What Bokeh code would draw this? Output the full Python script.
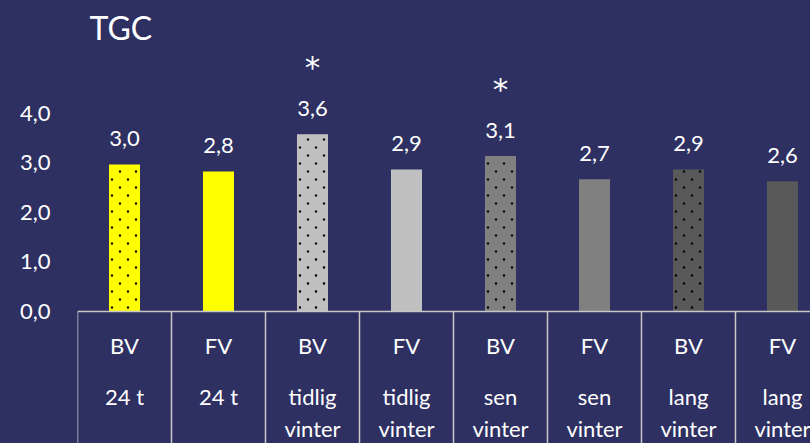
from bokeh.plotting import figure
from bokeh.models import Range1d, FixedTicker, CustomJSTickFormatter, ColumnDataSource, Label
from bokeh.core.properties import value
from bokeh.embed import file_html
from bokeh.resources import INLINE

# ---- data ----
groups = ["BV", "FV", "BV", "FV", "BV", "FV", "BV", "FV"]
periods = ["24 t", "24 t", "tidlig\nvinter", "tidlig\nvinter",
           "sen\nvinter", "sen\nvinter", "lang\nvinter", "lang\nvinter"]
tgc = [2.97, 2.83, 3.58, 2.87, 3.14, 2.67, 2.87, 2.63]
value_labels = ["3,0", "2,8", "3,6", "2,9", "3,1", "2,7", "2,9", "2,6"]
significance = ["", "", "*", "", "*", "", "", ""]
bar_colors = ["#FFFF00", "#FFFF00", "#C0C0C0", "#C0C0C0",
              "#808080", "#808080", "#595959", "#595959"]
dotted = [True, False, True, False, True, False, True, False]
y_ticks = [0, 1, 2, 3, 4]
title_text = "TGC"

BG = "#2E3062"
FONT = "Lato"
LINE = "#C8C8C8"

W, H = 810, 443
LEFT = 77
X0, X1 = 0, 7.798
Y0, Y1 = -2.667, 6.283
BAR_W = 0.33
PX_X = (W - LEFT) / (X1 - X0)   # pixels per x unit
PX_Y = H / (Y1 - Y0)            # pixels per y unit

n = len(groups)
centers = [i + 0.5 for i in range(n)]
line1 = [s.split("\n")[0] for s in periods]
line2 = [s.split("\n")[1] if "\n" in s else "" for s in periods]

src = ColumnDataSource(dict(
    x=centers, top=tgc, color=bar_colors,
    lab=value_labels, sig=significance,
    g=groups, l1=line1, l2=line2,
))

# dotted fill texture for the marked bars (staggered small dots)
dot_x, dot_y = [], []
bw_px = BAR_W * PX_X
for xc, top, d in zip(centers, tgc, dotted):
    if not d:
        continue
    left = xc - BAR_W / 2
    top_px = top * PX_Y
    r = 0
    while True:
        ypx = 4 + r * 8
        if ypx > top_px - 1:
            break
        offs = (3, 19) if r % 2 == 0 else (11, 27)
        for o in offs:
            if o < bw_px - 1:
                dot_x.append(left + o / PX_X)
                dot_y.append(ypx / PX_Y)
        r += 1

p = figure(width=W, height=H, output_backend="svg", toolbar_location=None,
           x_range=Range1d(X0, X1), y_range=Range1d(Y0, Y1),
           x_axis_location=None, min_border_left=LEFT, min_border_right=0,
           min_border_top=0, min_border_bottom=0)
p.background_fill_color = BG
p.border_fill_color = BG
p.outline_line_color = None
p.grid.visible = False

# bars
p.vbar(x="x", top="top", bottom=0, width=BAR_W, source=src,
       fill_color="color", line_color=None)
p.scatter(x=dot_x, y=dot_y, marker="square", size=2.2,
          fill_color="black", line_color=None)

# table lines
bounds = list(range(n + 1))
p.segment(x0=bounds, y0=[0] * len(bounds), x1=bounds, y1=[-3] * len(bounds),
          line_color=LINE, line_width=1.5)
p.segment(x0=[0], y0=[0], x1=[n], y1=[0], line_color=LINE, line_width=1.5)

# value labels
p.text(x="x", y="top", text="lab", source=src, y_offset=-26,
       text_align="center", text_baseline="alphabetic",
       text_font=value(FONT), text_font_size="22px", text_color="white")
# significance
p.text(x="x", y="top", text="sig", source=src, y_offset=-67,
       text_align="center", text_baseline="alphabetic",
       text_font=value("DejaVu Sans"), text_font_size="31px", text_color="white")

# category table text
for col, off in (("g", 34), ("l1", 85), ("l2", 117)):
    p.text(x="x", y=0, text=col, source=src, y_offset=off,
           text_align="center", text_baseline="alphabetic",
           text_font=value(FONT), text_font_size="22px", text_color="white")

# title
p.add_layout(Label(x=0.128, y=5.73, text=title_text, text_baseline="alphabetic",
                   text_align="left", text_font=FONT, text_font_size="32px",
                   text_color="white"))

# y axis
ax = p.yaxis[0]
ax.ticker = FixedTicker(ticks=y_ticks)
ax.formatter = CustomJSTickFormatter(code="return tick.toFixed(1).replace('.', ',');")
ax.axis_line_color = None
ax.major_tick_line_color = None
ax.minor_tick_line_color = None
ax.major_tick_out = 0
ax.major_tick_in = 0
ax.major_label_standoff = 27
ax.major_label_text_font = FONT
ax.major_label_text_font_size = "22px"
ax.major_label_text_color = "white"

html = file_html(p, INLINE)
html = html.replace("<head>", "<head><style>body{background-color:%s;}</style>" % BG, 1)
open("out.html", "w").write(html)
